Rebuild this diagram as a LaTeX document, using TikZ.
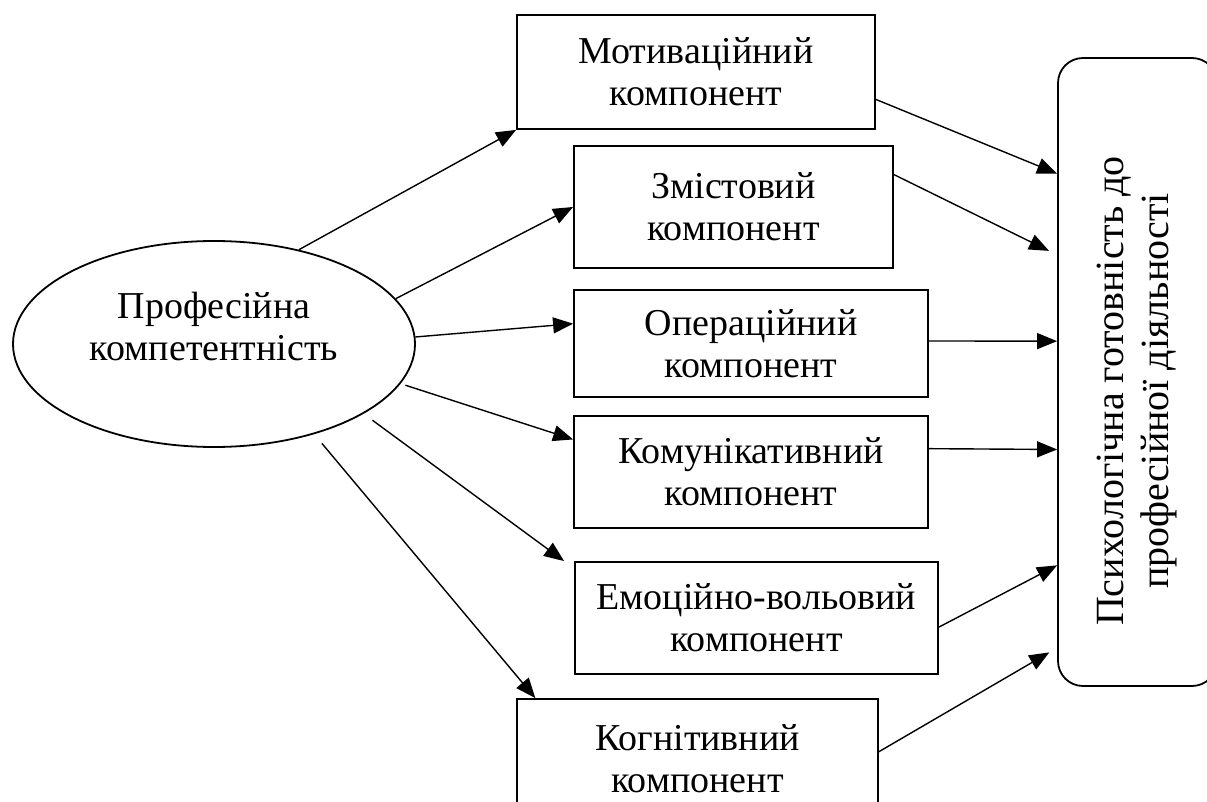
\documentclass[tikz,border=0pt]{standalone}
\usepackage{fontspec}
\setmainfont{Liberation Serif}
\usetikzlibrary{shapes.geometric,arrows.meta,calc}
\begin{document}
\begin{tikzpicture}[x=1pt,y=-1pt,
  comp/.style={draw,line width=1.8pt,inner sep=0pt,align=center,font=\fontsize{38}{42}\selectfont},
  arr/.style={line width=1.4pt,-{Triangle[length=20pt,width=16pt]}},
  txt/.style={align=center,font=\fontsize{38}{42}\selectfont,inner sep=0pt}]
\useasboundingbox (0,0) rectangle (1207,802);
\clip (0,0) rectangle (1207,802);

% ellipse
\node[ellipse,draw,line width=1.8pt,minimum width=402pt,minimum height=206pt,inner sep=0pt] (E) at (214,344) {};
\node[txt] (Et) at (214,327) {Професійна\\компетентність};

% component boxes
\node[comp,minimum width=358pt,minimum height=114pt] (m) at (696,72) {Мотиваційний\\компонент};
\node[comp,minimum width=319pt,minimum height=122pt] (z) at (733.5,207) {Змістовий\\компонент};
\node[comp,minimum width=354pt,minimum height=107pt] (o) at (751,343.5) {Операційний\\компонент};
\node[comp,minimum width=354pt,minimum height=112pt] (k) at (751,472) {Комунікативний\\компонент};
\node[comp,minimum width=363pt,minimum height=112pt] (e) at (756.5,618) {Емоційно-вольовий\\компонент};
\node[comp,minimum width=361pt,minimum height=120pt] (g) at (697.5,759) {Когнітивний\\компонент};

% result box
\node[draw,line width=1.8pt,rounded corners=25pt,minimum width=159pt,minimum height=628pt,inner sep=0pt] (R) at (1137.5,372) {};
\node[txt,rotate=90,font=\fontsize{40}{45}\selectfont] (Rt) at (1137,391) {Психологічна готовність до\\професійної діяльності};

% arrows from ellipse
\draw[arr] (E.48) -- (m.south west);
\draw[arr] (E.14) -- (z.west);
\draw[arr] (E.2) -- ($(o.north west)!0.318!(o.south west)$);
\draw[arr,shorten <=5pt] (E.-12) -- ($(k.north west)!0.214!(k.south west)$);
\draw[arr,shorten <=11pt] (E.-25) -- ([xshift=-10pt]e.north west);
\draw[arr,shorten <=12pt] (E.-42.5) -- ($(g.north west)!0.053!(g.north east)$);

% arrows to result
\draw[arr] ($(m.north east)!0.737!(m.south east)$) -- ($(R.north west)!0.185!(R.south west)$);
\draw[arr,shorten >=9pt] ($(z.north east)!0.238!(z.south east)$) -- ($(R.north west)!0.314!(R.south west)$);
\draw[arr] ($(o.north east)!0.477!(o.south east)$) -- ($(R.north west)!0.451!(R.south west)$);
\draw[arr] ($(k.north east)!0.295!(k.south east)$) -- ($(R.north west)!0.623!(R.south west)$);
\draw[arr] ($(e.north east)!0.58!(e.south east)$) -- ($(R.north west)!0.807!(R.south west)$);
\draw[arr,shorten >=9pt] ($(g.north east)!0.44!(g.south east)$) -- ($(R.north west)!0.938!(R.south west)$);
\end{tikzpicture}
\end{document}
